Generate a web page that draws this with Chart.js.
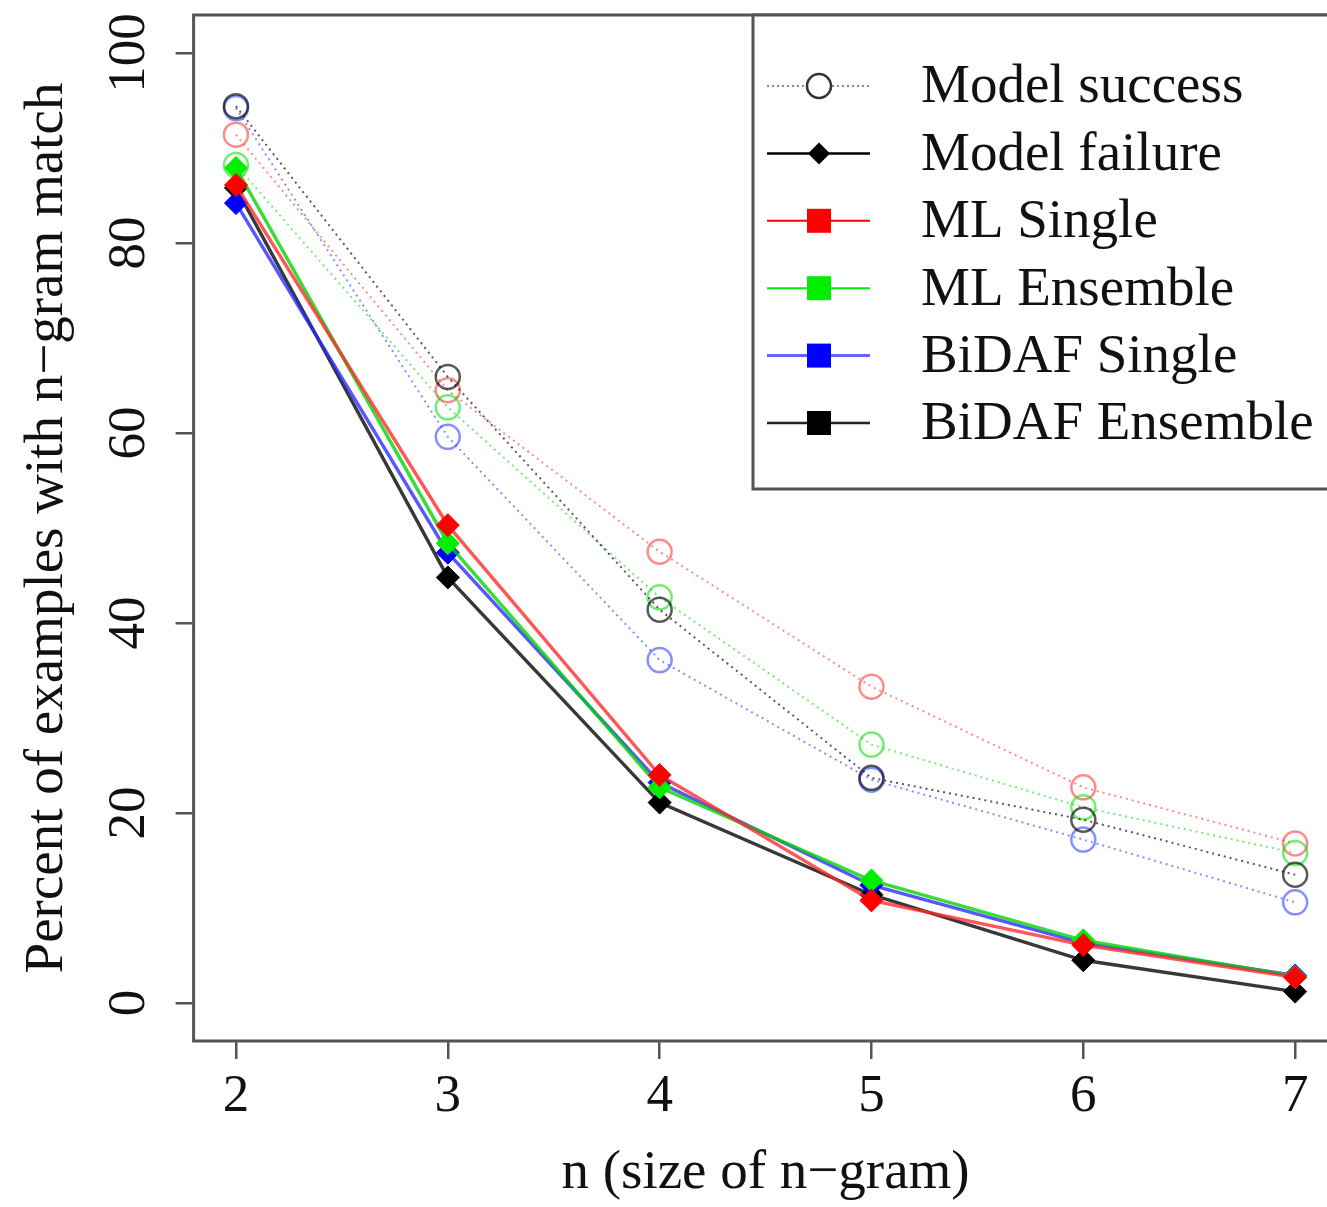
<!DOCTYPE html>
<html>
<head>
<meta charset="utf-8">
<script src="https://cdn.jsdelivr.net/npm/chart.js@4.4.1/dist/chart.umd.min.js"></script>
<style>
  html, body { margin: 0; padding: 0; background: #fff; overflow: hidden; width: 1327px; height: 1207px; }
  #c { display: block; }
</style>
</head>
<body>
<canvas id="c" width="1352" height="1207"></canvas>
<script>
// ---- data ----
const ngramSizes = [2, 3, 4, 5, 6, 7];
const yTickValues = [0, 20, 40, 60, 80, 100];

const mlSingleSuccess    = [91.4, 64.5, 47.5, 33.3, 22.7, 16.8];
const mlSingleFailure    = [86.1, 50.3, 24.0, 10.8, 6.1, 2.7];
const mlEnsembleSuccess  = [88.2, 62.7, 42.7, 27.2, 20.6, 15.8];
const mlEnsembleFailure  = [87.9, 48.4, 22.7, 12.9, 6.6, 2.8];
const bidafSingleSuccess = [94.2, 59.6, 36.1, 23.5, 17.2, 10.6];
const bidafSingleFailure = [84.2, 47.4, 23.2, 12.4, 6.3, 2.9];
const bidafEnsembleSuccess = [94.4, 65.9, 41.4, 23.7, 19.3, 13.5];
const bidafEnsembleFailure = [85.8, 44.8, 21.1, 11.4, 4.5, 1.2];

const legendLabels = ['Model success', 'Model failure', 'ML Single', 'ML Ensemble', 'BiDAF Single', 'BiDAF Ensemble'];

const xTitle = 'n (size of n\u2212gram)';
const yTitle = 'Percent of examples with n\u2212gram match';

// ---- styles ----
const FONT = '"Liberation Serif", "Times New Roman", serif';
const col = {
  red:   {solid: '#ff0000', line: 'rgba(255,40,40,0.78)', light: 'rgba(255,60,60,0.6)'},
  green: {solid: '#00ee00', line: 'rgba(0,210,0,0.78)', light: 'rgba(0,220,0,0.55)'},
  blue:  {solid: '#0000ff', line: 'rgba(40,40,255,0.78)', light: 'rgba(50,70,255,0.6)'},
  black: {solid: '#000000', line: 'rgba(0,0,0,0.78)', light: 'rgba(0,0,0,0.65)'}
};

function toPts(arr) { return arr.map((v, i) => ({x: ngramSizes[i], y: v})); }

function successDs(label, arr, c) {
  return {
    label, data: toPts(arr), showLine: true,
    borderColor: c.light, borderWidth: 2, borderDash: [2, 4],
    pointStyle: 'circle', pointRadius: 12, pointBorderWidth: 2.5,
    pointBorderColor: c.light, pointBackgroundColor: 'rgba(0,0,0,0)',
    order: 2
  };
}
function failureDs(label, arr, c) {
  return {
    label, data: toPts(arr), showLine: true,
    borderColor: c.line, borderWidth: 3.4,
    pointStyle: 'rectRot', pointRadius: 11.5, pointBorderWidth: 1,
    pointBorderColor: c.solid, pointBackgroundColor: c.solid,
    order: 1
  };
}

const datasets = [
  successDs('BiDAF Ensemble success', bidafEnsembleSuccess, col.black),
  successDs('BiDAF Single success', bidafSingleSuccess, col.blue),
  successDs('ML Ensemble success', mlEnsembleSuccess, col.green),
  successDs('ML Single success', mlSingleSuccess, col.red),
  failureDs('ML Single failure', mlSingleFailure, col.red),
  failureDs('ML Ensemble failure', mlEnsembleFailure, col.green),
  failureDs('BiDAF Single failure', bidafSingleFailure, col.blue),
  failureDs('BiDAF Ensemble failure', bidafEnsembleFailure, col.black)
];

const boxPlugin = {
  id: 'box',
  afterDraw(chart) {
    const {ctx, chartArea: a} = chart;
    ctx.save();
    ctx.strokeStyle = '#555';
    ctx.lineWidth = 3;
    ctx.strokeRect(a.left, a.top, a.right - a.left, a.bottom - a.top);
    ctx.restore();
  }
};

const legendPlugin = {
  id: 'customLegend',
  afterDraw(chart) {
    const {ctx, chartArea: a} = chart;
    const left = 753, top = a.top, right = a.right, bottom = 489;
    ctx.save();
    ctx.fillStyle = '#fff';
    ctx.fillRect(left, top, right - left, bottom - top);
    ctx.strokeStyle = '#555';
    ctx.lineWidth = 3;
    ctx.strokeRect(left, top, right - left, bottom - top);

    const styles = [
      {line: 'rgba(0,0,0,0.45)', dash: [2, 3], w: 2, marker: 'circle', mc: '#333'},
      {line: '#000', dash: [], w: 2.5, marker: 'diamond', mc: '#000'},
      {line: col.red.solid, dash: [], w: 2, marker: 'square', mc: col.red.solid},
      {line: col.green.solid, dash: [], w: 2, marker: 'square', mc: col.green.solid},
      {line: 'rgba(60,60,255,0.8)', dash: [], w: 3, marker: 'square', mc: col.blue.solid},
      {line: '#222', dash: [], w: 2.5, marker: 'square', mc: '#000'}
    ];
    const x0 = 767, x1 = 870, xm = 819, tx = 921;
    const y0 = 86, step = 67.4;
    ctx.font = '55px ' + FONT;
    ctx.textBaseline = 'middle';
    ctx.textAlign = 'left';
    legendLabels.forEach((lab, i) => {
      const y = y0 + i * step;
      const s = styles[i];
      ctx.strokeStyle = s.line;
      ctx.lineWidth = s.w;
      ctx.setLineDash(s.dash);
      ctx.beginPath(); ctx.moveTo(x0, y); ctx.lineTo(x1, y); ctx.stroke();
      ctx.setLineDash([]);
      if (s.marker === 'circle') {
        ctx.fillStyle = '#fff';
        ctx.beginPath(); ctx.arc(xm, y, 12, 0, Math.PI * 2); ctx.fill();
        ctx.strokeStyle = s.mc; ctx.lineWidth = 2.5; ctx.stroke();
      } else if (s.marker === 'diamond') {
        ctx.fillStyle = s.mc;
        ctx.beginPath();
        ctx.moveTo(xm, y - 11); ctx.lineTo(xm + 11, y); ctx.lineTo(xm, y + 11); ctx.lineTo(xm - 11, y);
        ctx.closePath(); ctx.fill();
      } else {
        ctx.fillStyle = s.mc;
        ctx.fillRect(xm - 12, y - 12, 24, 24);
      }
      ctx.fillStyle = '#111';
      ctx.fillText(lab, tx, y + 2);
    });
    ctx.restore();
  }
};

new Chart(document.getElementById('c'), {
  type: 'scatter',
  data: { datasets },
  options: {
    responsive: false,
    animation: false,
    layout: { padding: { top: 15, right: 8, bottom: 0, left: 0 } },
    plugins: { legend: { display: false }, tooltip: { enabled: false } },
    scales: {
      x: {
        type: 'linear', min: 1.8, max: 7.2,
        afterBuildTicks: s => { s.ticks = ngramSizes.map(v => ({value: v})); },
        afterFit: s => { s.height = 166; s.paddingLeft = 0; s.paddingRight = 0; },
        grid: { drawOnChartArea: false, drawTicks: true, tickLength: 18, color: '#555', lineWidth: 2.5 },
        border: { display: false },
        ticks: { color: '#111', font: { family: FONT, size: 53 }, padding: 6, maxRotation: 0 },
        title: { display: true, text: xTitle, color: '#111', font: { family: FONT, size: 55 }, padding: { top: 0, bottom: 0 } }
      },
      y: {
        type: 'linear', min: -4, max: 104,
        afterBuildTicks: s => { s.ticks = yTickValues.map(v => ({value: v})); },
        afterFit: s => { s.width = 193.6; s.paddingTop = 0; s.paddingBottom = 0; },
        grid: { drawOnChartArea: false, drawTicks: true, tickLength: 18, color: '#555', lineWidth: 2.5 },
        border: { display: false },
        ticks: { color: '#111', font: { family: FONT, size: 53 }, padding: 6, minRotation: 90, maxRotation: 90, crossAlign: 'center' },
        title: { display: true, text: yTitle, color: '#111', font: { family: FONT, size: 55 }, padding: { top: 15, bottom: 0 } }
      }
    }
  },
  plugins: [boxPlugin, legendPlugin]
});
</script>
</body>
</html>
